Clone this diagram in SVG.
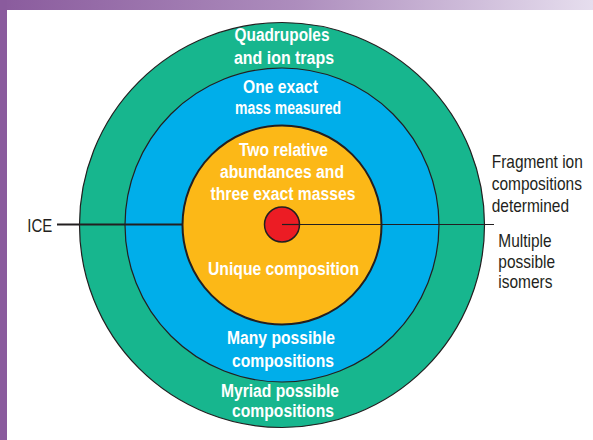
<svg xmlns="http://www.w3.org/2000/svg" width="593" height="440" viewBox="0 0 593 440">
  <defs>
    <linearGradient id="topbar" x1="0" y1="0" x2="1" y2="0">
      <stop offset="0" stop-color="#8a5b9d"/>
      <stop offset="0.5" stop-color="#ad8dbd"/>
      <stop offset="1" stop-color="#e6deee"/>
    </linearGradient>
    <style>
      .ring { stroke: #231f20; stroke-width: 1.2; }
      .in { font-family: "Liberation Sans", Arial, sans-serif; font-weight: bold; font-size: 17.5px; fill: #ffffff; text-anchor: middle; }
      .out { font-family: "Liberation Sans", Arial, sans-serif; font-size: 18px; fill: #231f20; }
      .conn { stroke: #231f20; fill: none; }
    </style>
  </defs>
  <rect x="0" y="0" width="593" height="440" fill="#ffffff"/>
  <rect x="0" y="0" width="593" height="10" fill="url(#topbar)"/>
  <rect x="0" y="0" width="7" height="440" fill="#8a5b9d"/>

  <g id="ring-outer">
    <circle class="ring" cx="282" cy="225" r="202.5" fill="#17b68e"/>
  </g>
  <g id="ring-middle">
    <circle class="ring" cx="282" cy="225" r="157" fill="#00aeea"/>
  </g>
  <g id="ring-inner">
    <circle class="ring" cx="282" cy="225" r="99.5" fill="#fcb817" style="stroke-width:2"/>
  </g>

  <g id="connectors">
    <line class="conn" x1="57" y1="224.5" x2="183" y2="224.5" stroke-width="2.2"/>
    <line class="conn" x1="282" y1="224.5" x2="494" y2="224.5" stroke-width="1.2"/>
  </g>

  <g id="core">
    <circle cx="282" cy="224.5" r="17.5" fill="#ec1c24" stroke="#231f20" stroke-width="1.5"/>
    <line class="conn" x1="282" y1="224.5" x2="300" y2="224.5" stroke-width="1.2"/>
  </g>

  <g id="ring-outer-labels">
    <text class="in" x="282" y="41" textLength="95" lengthAdjust="spacingAndGlyphs">Quadrupoles</text>
    <text class="in" x="284" y="63.5" textLength="100" lengthAdjust="spacingAndGlyphs">and ion traps</text>
    <text class="in" x="280" y="396.5" textLength="118" lengthAdjust="spacingAndGlyphs">Myriad possible</text>
    <text class="in" x="283" y="416.5" textLength="102" lengthAdjust="spacingAndGlyphs">compositions</text>
  </g>
  <g id="ring-middle-labels">
    <text class="in" x="280.5" y="92.5" textLength="75" lengthAdjust="spacingAndGlyphs">One exact</text>
    <text class="in" x="288" y="114" textLength="106" lengthAdjust="spacingAndGlyphs">mass measured</text>
    <text class="in" x="281" y="344" textLength="108" lengthAdjust="spacingAndGlyphs">Many possible</text>
    <text class="in" x="283" y="366.5" textLength="102" lengthAdjust="spacingAndGlyphs">compositions</text>
  </g>
  <g id="ring-inner-labels">
    <text class="in" x="283.5" y="156" textLength="89" lengthAdjust="spacingAndGlyphs">Two relative</text>
    <text class="in" x="282" y="178" textLength="124" lengthAdjust="spacingAndGlyphs">abundances and</text>
    <text class="in" x="283" y="200" textLength="145" lengthAdjust="spacingAndGlyphs">three exact masses</text>
    <text class="in" x="283.5" y="275" textLength="151" lengthAdjust="spacingAndGlyphs">Unique composition</text>
  </g>

  <g id="label-ice">
    <text class="out" x="27.3" y="231.5" textLength="25" lengthAdjust="spacingAndGlyphs">ICE</text>
  </g>
  <g id="label-fragment" transform="translate(491.7 0) scale(0.86 1)">
    <text class="out" x="0" y="168.3">Fragment ion</text>
    <text class="out" x="0" y="190">compositions</text>
    <text class="out" x="0" y="211.7">determined</text>
  </g>
  <g id="label-isomers" transform="translate(498.3 0) scale(0.86 1)">
    <text class="out" x="0" y="246.7">Multiple</text>
    <text class="out" x="0" y="268.3">possible</text>
    <text class="out" x="0" y="288.3">isomers</text>
  </g>
</svg>
